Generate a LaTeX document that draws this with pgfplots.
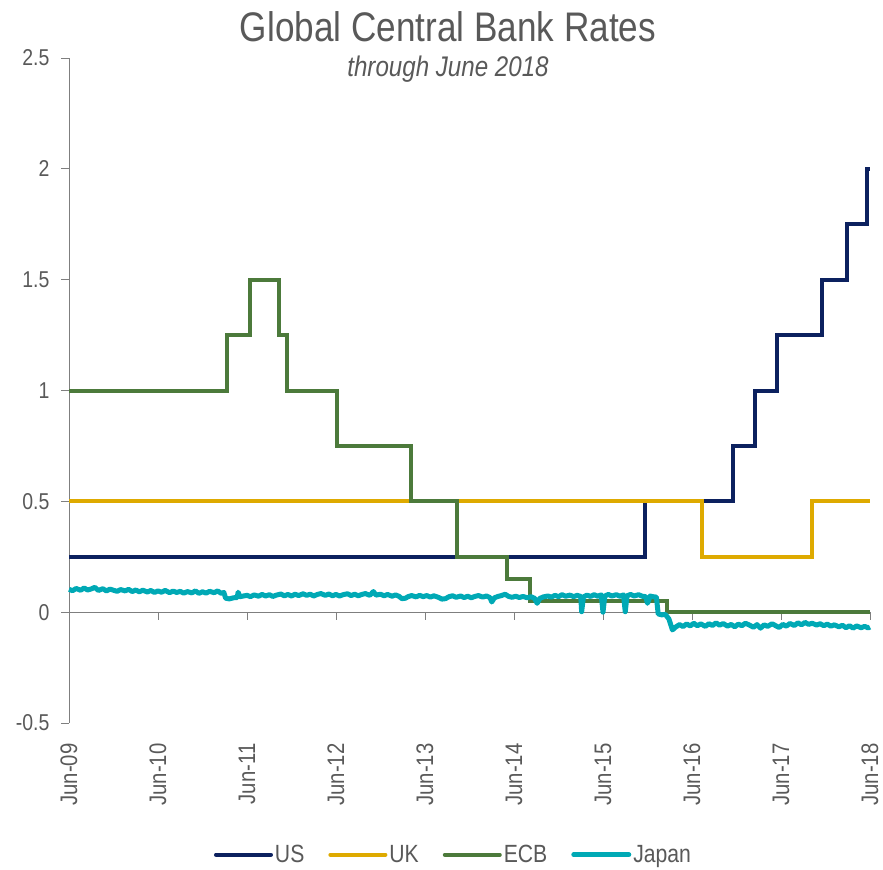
\documentclass[border=0pt]{standalone}
\usepackage{pgfplots}
\pgfplotsset{compat=1.18}
\usepackage{fontspec}
\setmainfont[FakeStretch=0.85]{Liberation Sans}
\definecolor{usc}{HTML}{0C215F}
\definecolor{ukc}{HTML}{DEAA00}
\definecolor{ecbc}{HTML}{4C7A3B}
\definecolor{jpc}{HTML}{00A9B5}
\definecolor{txt}{HTML}{595959}
\definecolor{axc}{HTML}{7F7F7F}

\pgfplotstableread{
x y
0 0.25
6.47 0.5
7.46 0.75
7.71 1.0
7.96 1.25
8.46 1.5
8.74 1.75
8.97 2.0
9.0 2.0
}\us
\pgfplotstableread{
x y
0 0.5
7.11 0.25
8.35 0.5
9.0 0.5
}\uk
\pgfplotstableread{
x y
0 1.0
1.775 1.25
2.03 1.5
2.36 1.25
2.45 1.0
3.01 0.75
3.84 0.5
4.36 0.25
4.92 0.15
5.18 0.05
6.72 0.0
9.0 0.0
}\ecb
\pgfplotstableread{
x y
0.00 0.103
0.04 0.097
0.08 0.107
0.13 0.099
0.17 0.109
0.21 0.100
0.25 0.105
0.29 0.112
0.33 0.098
0.38 0.106
0.42 0.096
0.46 0.104
0.50 0.099
0.54 0.094
0.58 0.102
0.63 0.096
0.67 0.103
0.71 0.093
0.75 0.100
0.79 0.092
0.83 0.099
0.88 0.091
0.92 0.098
0.96 0.089
1.00 0.096
1.04 0.090
1.08 0.098
1.13 0.088
1.17 0.095
1.21 0.089
1.25 0.094
1.29 0.086
1.33 0.093
1.38 0.087
1.42 0.096
1.46 0.085
1.50 0.092
1.54 0.086
1.58 0.094
1.63 0.088
1.67 0.096
1.71 0.085
1.74 0.089
1.76 0.063
1.80 0.060
1.85 0.065
1.89 0.066
1.90 0.090
1.92 0.070
1.96 0.073
2.00 0.076
2.04 0.070
2.08 0.078
2.13 0.072
2.17 0.080
2.21 0.073
2.25 0.079
2.29 0.071
2.33 0.077
2.38 0.082
2.42 0.074
2.46 0.080
2.50 0.073
2.54 0.081
2.58 0.075
2.63 0.083
2.67 0.076
2.71 0.081
2.75 0.073
2.79 0.080
2.83 0.084
2.88 0.076
2.92 0.082
2.96 0.074
3.00 0.080
3.04 0.073
3.08 0.079
3.13 0.083
3.17 0.075
3.21 0.081
3.25 0.074
3.29 0.080
3.33 0.084
3.38 0.076
3.42 0.093
3.45 0.077
3.50 0.081
3.54 0.074
3.58 0.080
3.63 0.072
3.67 0.078
3.71 0.071
3.74 0.061
3.78 0.063
3.81 0.070
3.85 0.075
3.90 0.069
3.94 0.076
3.98 0.070
4.02 0.075
4.06 0.068
4.10 0.074
4.15 0.067
4.19 0.059
4.23 0.061
4.27 0.070
4.31 0.074
4.35 0.067
4.40 0.073
4.44 0.066
4.48 0.072
4.52 0.065
4.56 0.071
4.60 0.075
4.65 0.068
4.69 0.073
4.73 0.066
4.75 0.046
4.78 0.065
4.82 0.071
4.86 0.075
4.90 0.081
4.94 0.071
4.98 0.067
5.02 0.072
5.06 0.066
5.10 0.071
5.15 0.065
5.19 0.070
5.23 0.063
5.26 0.040
5.29 0.062
5.33 0.069
5.38 0.073
5.42 0.068
5.46 0.076
5.50 0.070
5.54 0.079
5.58 0.072
5.63 0.077
5.67 0.070
5.71 0.076
5.75 0.071
5.76 0.002
5.78 0.069
5.82 0.077
5.86 0.071
5.90 0.079
5.94 0.072
5.98 0.078
6.00 0.000
6.02 0.073
6.06 0.080
6.10 0.073
6.15 0.079
6.19 0.072
6.23 0.078
6.25 0.002
6.27 0.074
6.31 0.080
6.35 0.073
6.40 0.079
6.44 0.072
6.48 0.070
6.50 0.040
6.53 0.073
6.56 0.070
6.60 0.068
6.62 -0.008
6.66 -0.012
6.70 -0.010
6.74 -0.030
6.78 -0.080
6.82 -0.066
6.86 -0.056
6.90 -0.065
6.94 -0.053
6.98 -0.062
7.02 -0.050
7.06 -0.061
7.10 -0.053
7.15 -0.064
7.19 -0.052
7.23 -0.060
7.27 -0.048
7.31 -0.059
7.35 -0.051
7.40 -0.063
7.44 -0.055
7.48 -0.066
7.52 -0.054
7.56 -0.061
7.60 -0.050
7.65 -0.059
7.69 -0.068
7.73 -0.056
7.77 -0.072
7.81 -0.057
7.85 -0.064
7.90 -0.052
7.94 -0.061
7.98 -0.069
8.02 -0.055
8.06 -0.063
8.10 -0.051
8.15 -0.060
8.19 -0.048
8.23 -0.057
8.27 -0.046
8.31 -0.055
8.35 -0.050
8.40 -0.058
8.44 -0.052
8.48 -0.061
8.52 -0.054
8.56 -0.063
8.60 -0.057
8.65 -0.066
8.69 -0.059
8.73 -0.070
8.77 -0.061
8.81 -0.072
8.85 -0.062
8.90 -0.070
8.94 -0.064
8.98 -0.071
9.00 -0.067
}\jp

\begin{document}
\begin{tikzpicture}[x=1bp,y=1bp]
\path[use as bounding box] (0,0) rectangle (883,-870);
\node[font=\fontsize{41.5}{45}\selectfont, text=txt] at (448,-27) {Global Central Bank Rates};
\node[font=\fontsize{28.5}{31}\selectfont\itshape, text=txt] at (448,-69) {through June 2018};
\begin{axis}[
  at={(69bp,-723bp)}, anchor=south west,
  scale only axis, width=801bp, height=665bp,
  xmin=0, xmax=9, ymin=-0.5, ymax=2.5,
  axis x line*=bottom, axis y line*=left,
  x axis line style={draw=none},
  y axis line style={draw=axc, line width=1bp},
  xtick={0,...,9},
  xticklabels={Jun-09,Jun-10,Jun-11,Jun-12,Jun-13,Jun-14,Jun-15,Jun-16,Jun-17,Jun-18},
  x tick style={draw=none},
  ytick={-0.5,0,0.5,1,1.5,2,2.5},
  y tick style={draw=axc, line width=1bp},
  tick align=outside, major tick length=8bp,
  xticklabel shift=9bp, yticklabel shift=8bp,
  /pgf/number format/assume math mode=true,
  x tick label style={rotate=90, anchor=east, font=\fontsize{24}{26}\selectfont, text=txt},
  y tick label style={font=\fontsize{23}{25}\selectfont, text=txt},
  legend style={at={(0.48,-0.198)}, anchor=center, draw=none, fill=none,
    legend columns=4, font=\fontsize{25}{27}\selectfont, text=txt,
    /tikz/every even column/.append style={column sep=22bp},
    inner sep=0pt},
  legend image code/.code={\draw[#1, line cap=round] (0bp,0bp) -- (55bp,0bp);},
  clip=false,
]
\draw[axc, line width=1bp] (axis cs:0,0) -- (axis cs:9,0);
\pgfplotsinvokeforeach{1,...,9}{\draw[axc, line width=1bp] (axis cs:#1,0) -- (axis cs:#1,-0.036);}
\addplot[const plot, usc, line width=4bp] table {\us};
\addlegendentry{US}
\addplot[const plot, ukc, line width=4bp] table {\uk};
\addlegendentry{UK}
\addplot[const plot, ecbc, line width=4bp] table {\ecb};
\addlegendentry{ECB}
\addplot[jpc, line width=5bp, line join=round] table {\jp};
\addlegendentry{Japan}
\end{axis}
\end{tikzpicture}
\end{document}
